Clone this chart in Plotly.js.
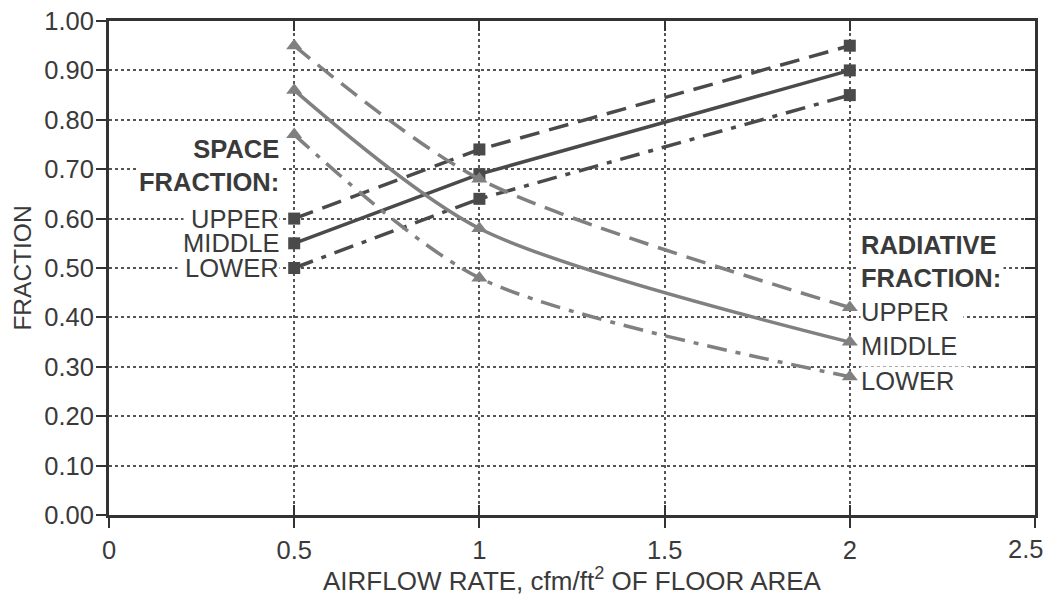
<!DOCTYPE html>
<html>
<head>
<meta charset="utf-8">
<script src="https://cdn.plot.ly/plotly-3.0.1.min.js"></script>
<style>html,body{margin:0;padding:0;background:#fff;}#chart{width:1047px;height:596px;}</style>
</head>
<body>
<div id="chart"></div>
<script>
// Airflow rates (cfm/ft2 of floor area)
const airflow = [0.5, 1, 2];
// Space fraction (squares)
const spaceUpper  = [0.60, 0.74, 0.95];
const spaceMiddle = [0.55, 0.69, 0.90];
const spaceLower  = [0.50, 0.64, 0.85];
// Radiative fraction (triangles)
const radUpper  = [0.95, 0.68, 0.42];
const radMiddle = [0.86, 0.58, 0.35];
const radLower  = [0.77, 0.48, 0.28];
const seriesNames = ['UPPER', 'MIDDLE', 'LOWER'];
const xTicks = [0, 0.5, 1, 1.5, 2, 2.5];
const xTickText = ['0', '0.5', '1', '1.5', '2', '2.5'];
const yTicks = [0, 0.1, 0.2, 0.3, 0.4, 0.5, 0.6, 0.7, 0.8, 0.9, 1.0];
const yTickText = yTicks.map(v => v.toFixed(2));

const FONT = 'Liberation Sans, Arial, Helvetica, sans-serif';
const TXT = '#3a3a3a';
const SQ = '#4a4a4a';
const TRI = '#808080';
const dashes = ['20px,10px', 'solid', '20px,9px,5px,9px'];
const NB = '\u00A0';
const tickFont = {family: FONT, size: 25.5, color: TXT};

const traces = [];
[spaceUpper, spaceMiddle, spaceLower].forEach((ys, i) => {
  traces.push({
    x: airflow, y: ys, type: 'scatter', mode: 'lines+markers',
    name: 'Space ' + seriesNames[i], showlegend: false, hoverinfo: 'skip',
    line: {color: SQ, width: 3.5, dash: dashes[i]},
    marker: {symbol: 'square', size: 12, color: SQ}
  });
});
[radUpper, radMiddle, radLower].forEach((ys, i) => {
  traces.push({
    x: airflow, y: ys, type: 'scatter', mode: 'lines+markers',
    name: 'Radiative ' + seriesNames[i], showlegend: false, hoverinfo: 'skip',
    line: {color: TRI, width: 3.5, dash: dashes[i], shape: 'spline', smoothing: 0.8},
    marker: {symbol: 'triangle-up', size: 14, color: TRI}
  });
});
// helper trace so the overlay axes are drawn
traces.push({x: [0], y: [0], xaxis: 'x2', yaxis: 'y2', mode: 'markers',
  marker: {opacity: 0}, showlegend: false, hoverinfo: 'skip', type: 'scatter'});

const annFont = {family: FONT, size: 25.5, color: TXT};
const annotations = [];
annotations.push({
  x: airflow[0], y: 0.708, xref: 'x', yref: 'y', xanchor: 'right', yanchor: 'middle',
  xshift: -12, align: 'right', showarrow: false, bgcolor: '#fff', borderpad: 2,
  text: '<b>SPACE<br>FRACTION:</b>', font: annFont
});
[spaceUpper, spaceMiddle, spaceLower].forEach((ys, i) => {
  annotations.push({
    x: airflow[0], y: ys[0], xref: 'x', yref: 'y', xanchor: 'right', yanchor: 'middle',
    xshift: -14, showarrow: false, bgcolor: i === 1 ? 'rgba(0,0,0,0)' : '#fff', borderpad: 0,
    text: NB + seriesNames[i], font: annFont
  });
});
annotations.push({
  x: airflow[2], y: 0.514, xref: 'x', yref: 'y', xanchor: 'left', yanchor: 'middle',
  xshift: 8, align: 'left', showarrow: false, bgcolor: '#fff', borderpad: 2,
  text: '<b>RADIATIVE<br>FRACTION:</b>' , font: annFont
});
[radUpper, radMiddle, radLower].forEach((ys, i) => {
  annotations.push({
    x: airflow[2], y: ys[2], xref: 'x', yref: 'y', xanchor: 'left', yanchor: 'middle',
    xshift: 10, yshift: -4, showarrow: false, bgcolor: i === 1 ? 'rgba(0,0,0,0)' : '#fff', borderpad: 0,
    text: seriesNames[i] + NB + NB, font: annFont
  });
});
// last x tick label, kept inside the page edge like the reference
annotations.push({
  x: xTicks[xTicks.length - 1], y: 0, xref: 'x', yref: 'paper', xanchor: 'right', yanchor: 'top',
  xshift: 10, yshift: -18, showarrow: false, text: xTickText[xTickText.length - 1], font: tickFont
});

const layout = {
  width: 1047, height: 596,
  margin: {l: 109, r: 12, t: 21, b: 81, pad: 0},
  paper_bgcolor: '#fff', plot_bgcolor: '#fff',
  font: {family: FONT, size: 25, color: TXT},
  showlegend: false,
  xaxis: {
    range: [0, 2.5], tickvals: xTicks, ticktext: xTickText.map((t, i) => i === xTickText.length - 1 ? ' ' : t),
    ticks: 'outside', ticklen: 10, tickwidth: 2, tickcolor: '#333',
    showline: true, linecolor: '#333', linewidth: 3, mirror: false,
    showgrid: true, gridcolor: '#555', griddash: 'dot', gridwidth: 2,
    zeroline: false, tickfont: tickFont,
    title: {text: 'AIRFLOW RATE, cfm/ft<sup>2</sup> OF FLOOR AREA', font: {family: FONT, size: 26, color: TXT}, standoff: 18}
  },
  yaxis: {
    range: [0, 1.0], tickvals: yTicks, ticktext: yTickText,
    ticks: 'outside', ticklen: 10, tickwidth: 2, tickcolor: '#333',
    showline: true, linecolor: '#333', linewidth: 3, mirror: false,
    showgrid: true, gridcolor: '#555', griddash: 'dot', gridwidth: 2,
    zeroline: false, tickfont: tickFont,
    ticklabelstandoff: -3,
    title: {text: 'FRACTION', font: {family: FONT, size: 24.5, color: TXT}, standoff: 6}
  },
  xaxis2: {
    overlaying: 'x', anchor: 'y2', side: 'bottom', range: [0, 2.5], tickvals: xTicks,
    ticks: 'inside', ticklen: 10, tickwidth: 2, tickcolor: '#333',
    showline: true, linecolor: '#333', linewidth: 3, mirror: 'allticks',
    showgrid: false, zeroline: false, showticklabels: false
  },
  yaxis2: {
    overlaying: 'y', anchor: 'x2', side: 'right', range: [0, 1.0], tickvals: yTicks,
    ticks: 'inside', ticklen: 10, tickwidth: 2, tickcolor: '#333',
    showline: true, linecolor: '#333', linewidth: 3, mirror: false,
    showgrid: false, zeroline: false, showticklabels: false
  },
  annotations: annotations
};

Plotly.newPlot('chart', traces, layout, {staticPlot: true, displayModeBar: false});
</script>
</body>
</html>
